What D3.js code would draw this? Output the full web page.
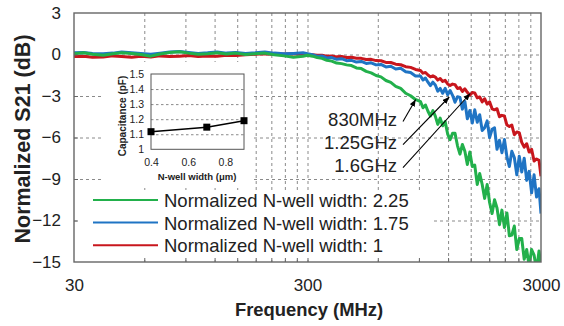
<!DOCTYPE html>
<html><head><meta charset="utf-8">
<script src="https://cdn.jsdelivr.net/npm/d3@7"></script>
<style>body{margin:0;background:#fff}svg{display:block;font-family:Arial,"Liberation Sans",sans-serif}</style>
</head><body><svg id="c" width="564" height="326"></svg>
<script>
// ---------- data ----------
const freqs=[30,33,36,40,44,48,53,58,64,70,77,85,93,102,112,123,135,148,163,179,197,216,238,261,287,300,
315,330,346,363,381,400,420,441,463,486,510,535,562,590,619,650,682,716,752,790,829,870,
914,937,960,984,1008,1033,1058,1084,1110,1138,1166,1195,1224,1254,1285,1317,1349,1382,1416,1451,1487,1524,1561,1600,1639,1680,1721,1764,1807,1852,1897,1944,1992,2041,2092,2144,2196,2250,2306,2363,2421,2481,2542,2605,2669,2735,2802,2871,2942,3000];
const greenS21=[0.05,0.12,0.02,-0.05,0.06,0.12,0.08,0.0,-0.12,0.04,0.15,0.2,0.1,0.02,0.06,0.12,0.04,0.1,0.0,0.06,0.1,-0.02,-0.1,-0.2,-0.12,-0.05,
-0.12,-0.22,-0.28,-0.42,-0.48,-0.62,-0.66,-0.75,-0.8,-0.97,-1.02,-1.22,-1.33,-1.52,-1.62,-1.88,-2.02,-2.3,-2.45,-2.8,-2.98,-3.25,
-3.4,-3.85,-3.65,-4.1,-4.45,-4.05,-4.45,-5.05,-4.6,-5.15,-4.85,-5.75,-6.15,-5.7,-5.7,-6.6,-7.2,-6.5,-7.0,-7.95,-7.05,-8.1,-8.0,-9.4,-8.6,-9.4,-10.4,-9.4,-10.7,-11.5,-10.5,-11.1,-12.3,-11.25,-12.5,-11.45,-13.1,-13.05,-12.4,-14.1,-13.3,-13.3,-14.8,-14.1,-15.3,-14.1,-14.5,-15.6,-14.2,-15.4];
const blueS21=[0.12,0.15,0.08,0.05,0.1,0.18,0.12,0.08,0.02,0.1,0.18,0.22,0.15,0.08,0.12,0.18,0.1,0.15,0.08,0.12,0.18,0.1,0.05,0.08,0.12,0.05,
-0.02,-0.12,-0.1,-0.25,-0.22,-0.35,-0.3,-0.45,-0.42,-0.55,-0.5,-0.65,-0.6,-0.75,-0.72,-0.9,-0.85,-1.05,-1.0,-1.25,-1.3,-1.55,
-1.55,-1.85,-1.7,-2.0,-2.25,-2.0,-2.2,-2.65,-2.45,-2.8,-2.45,-2.9,-2.6,-2.95,-3.45,-3.05,-3.1,-3.95,-3.4,-4.65,-4.05,-4.95,-4.0,-4.9,-4.35,-5.5,-5.3,-4.8,-6.0,-5.4,-5.3,-6.85,-6.2,-7.1,-6.15,-7.4,-8.1,-7.0,-7.45,-8.7,-7.35,-8.5,-7.5,-9.1,-8.45,-10.0,-8.7,-10.3,-9.7,-11.5];
const redS21=[-0.15,-0.12,-0.2,-0.18,-0.1,-0.15,-0.2,-0.12,-0.18,-0.1,-0.15,-0.12,-0.08,-0.15,-0.1,-0.12,-0.05,-0.08,-0.02,0.02,0.05,0.0,0.04,0.06,0.02,0.0,
-0.02,-0.06,-0.05,-0.12,-0.1,-0.17,-0.15,-0.22,-0.2,-0.27,-0.28,-0.36,-0.35,-0.44,-0.45,-0.57,-0.58,-0.7,-0.74,-0.88,-0.93,-1.08,
-1.15,-1.35,-1.3,-1.48,-1.62,-1.54,-1.63,-1.85,-1.74,-1.95,-1.87,-2.13,-2.24,-2.14,-2.18,-2.46,-2.39,-2.67,-2.48,-2.73,-2.94,-2.75,-2.78,-3.14,-3.07,-3.42,-3.2,-3.58,-3.42,-3.93,-4.0,-3.92,-4.5,-4.4,-4.45,-5.1,-5.2,-5.1,-5.8,-5.6,-5.65,-6.35,-6.7,-6.45,-7.05,-6.85,-7.7,-7.55,-7.65,-8.8];
const seriesNames=["Normalized N-well width: 2.25","Normalized N-well width: 1.75","Normalized N-well width: 1"];
const xTicks=[30,300,3000];
const yTicks=[-15,-12,-9,-6,-3,0,3];
const gridFreqs=[60,90,120,150,180,210,240,270,300,600,900,1200,1500,1800,2100,2400,2700];
const gridDB=[-12,-9,-6,-3,0];
const annotLabels=["830MHz","1.25GHz","1.6GHz"];
const annotFreqs=[830,1250,1600];
const annotDB=-3;
const insetWidths=[0.4,0.7,0.9];
const insetCap=[1.117,1.147,1.19];
const insetXTicks=[0.4,0.6,0.8];
const insetYTicks=[1,1.1,1.2,1.3,1.4,1.5];

// ---------- layout ----------
const svg=d3.select("#c");
const X0=74,X1=541,Y0=13,Y1=262;
const x=d3.scaleLog().domain([30,3000]).range([X0,X1]);
const y=d3.scaleLinear().domain([-15,3]).range([Y1,Y0]);
const gridColor="#8a8a8a", textColor="#222";
const colors={green:"#22b04b",blue:"#1f74c4",red:"#c8161d"};

svg.append("rect").attr("width",564).attr("height",326).attr("fill","#fff");

// grid
svg.append("g").attr("transform",`translate(0,${Y1})`)
  .call(d3.axisBottom(x).tickValues(gridFreqs).tickSize(-(Y1-Y0)).tickFormat(""))
  .call(g=>{g.select(".domain").remove();g.selectAll("line").attr("stroke",gridColor).attr("stroke-dasharray","3,3");});
svg.append("g").attr("transform",`translate(${X0},0)`)
  .call(d3.axisLeft(y).tickValues(gridDB).tickSize(-(X1-X0)).tickFormat(""))
  .call(g=>{g.select(".domain").remove();g.selectAll("line").attr("stroke",gridColor).attr("stroke-dasharray","3,3");});

// series
svg.append("clipPath").attr("id","clip").append("rect")
  .attr("x",X0).attr("y",Y0).attr("width",X1-X0).attr("height",Y1-Y0);
const line=d3.line().x((d,i)=>x(freqs[i])).y(d=>y(d));
const series=[
  {name:seriesNames[2],vals:redS21,color:colors.red},
  {name:seriesNames[1],vals:blueS21,color:colors.blue},
  {name:seriesNames[0],vals:greenS21,color:colors.green}];
svg.append("g").attr("clip-path","url(#clip)").selectAll("path").data(series).join("path")
  .attr("d",d=>line(d.vals)).attr("fill","none").attr("stroke",d=>d.color)
  .attr("stroke-width",3).attr("stroke-linejoin","round");

// inset
const ib=svg.append("g");
ib.append("rect").attr("x",104).attr("y",62).attr("width",148).attr("height",126).attr("fill","#fff");
const ix=d3.scaleLinear().domain([0.4,0.9]).range([151,244]);
const iy=d3.scaleLinear().domain([1,1.5]).range([149.3,74]);
ib.append("g").attr("transform",`translate(${ix.range()[0]},0)`)
  .call(d3.axisLeft(iy).tickValues(insetYTicks.slice(1,5)).tickSize(-(ix.range()[1]-ix.range()[0])).tickFormat(""))
  .call(g=>{g.select(".domain").remove();g.selectAll("line").attr("stroke",gridColor).attr("stroke-dasharray","2.5,2.5");});
ib.append("rect").attr("x",151).attr("y",74).attr("width",93).attr("height",75.3)
  .attr("fill","none").attr("stroke","#555").attr("stroke-width",1);
ib.append("g").attr("transform","translate(147,0)")
  .call(d3.axisLeft(iy).tickValues(insetYTicks).tickSize(0).tickFormat(d3.format("~g")))
  .call(g=>{g.select(".domain").remove();g.selectAll("text").attr("font-size","10.5px").attr("fill",textColor).attr("font-family","Arial,'Liberation Sans',sans-serif");});
ib.append("g").attr("transform","translate(0,156)")
  .call(d3.axisBottom(ix).tickValues(insetXTicks).tickSize(0).tickFormat(d3.format(".1f")))
  .call(g=>{g.select(".domain").remove();g.selectAll("text").attr("font-size","10.5px").attr("fill",textColor).attr("font-family","Arial,'Liberation Sans',sans-serif");});
ib.append("path").attr("d",d3.line().x((d,i)=>ix(insetWidths[i])).y(d=>iy(d))(insetCap))
  .attr("fill","none").attr("stroke","#000").attr("stroke-width",1.5);
ib.selectAll("rect.m").data(insetCap).join("rect").attr("class","m")
  .attr("x",(d,i)=>ix(insetWidths[i])-3.5).attr("y",d=>iy(d)-3.5).attr("width",7).attr("height",7).attr("fill","#000");
ib.append("text").attr("x",197).attr("y",180).attr("text-anchor","middle")
  .attr("font-size","9.5px").attr("font-weight","bold").attr("fill",textColor).text("N-well width (μm)");
ib.append("text").attr("transform","translate(126,116) rotate(-90)").attr("text-anchor","middle")
  .attr("font-size","10px").attr("font-weight","bold").attr("fill",textColor).text("Capacitance (pF)");

// legend
const lg=svg.append("g");
lg.append("rect").attr("x",78).attr("y",190).attr("width",354).attr("height",70).attr("fill","#fff");
const legendRows=[series[2],series[1],series[0]];
legendRows.forEach((s,i)=>{
  const ly=200+i*22.6;
  lg.append("line").attr("x1",93).attr("x2",158).attr("y1",ly).attr("y2",ly).attr("stroke",s.color).attr("stroke-width",2);
  lg.append("text").attr("x",164).attr("y",207+i*22.5).attr("font-size","18.5px").attr("fill",textColor).text(s.name);
});

// frame & axes
svg.append("rect").attr("x",X0).attr("y",Y0).attr("width",X1-X0).attr("height",Y1-Y0)
  .attr("fill","none").attr("stroke","#666").attr("stroke-width",1.4);
svg.append("g").attr("transform",`translate(0,${Y1})`)
  .call(d3.axisBottom(x).tickValues(gridFreqs).tickSize(-4).tickFormat(""))
  .call(g=>{g.select(".domain").remove();g.selectAll("line").attr("stroke","#666");});
svg.append("g").attr("transform",`translate(${X0},0)`)
  .call(d3.axisLeft(y).tickValues(gridDB).tickSize(-4).tickFormat(""))
  .call(g=>{g.select(".domain").remove();g.selectAll("line").attr("stroke","#666");});
svg.append("g").attr("transform",`translate(0,${Y1+14})`)
  .call(d3.axisBottom(x).tickValues(xTicks).tickSize(0).tickFormat(d3.format("d")))
  .call(g=>{g.select(".domain").remove();g.selectAll("text").attr("font-size","17px").attr("fill",textColor).attr("font-family","Arial,'Liberation Sans',sans-serif");});
svg.append("g").attr("transform",`translate(${X0-10},0)`)
  .call(d3.axisLeft(y).tickValues(yTicks).tickSize(0).tickFormat(d3.format("d")))
  .call(g=>{g.select(".domain").remove();g.selectAll("text").attr("font-size","17px").attr("fill",textColor).attr("font-family","Arial,'Liberation Sans',sans-serif");});

svg.append("text").attr("x",309).attr("y",316).attr("text-anchor","middle")
  .attr("font-size","18.4px").attr("font-weight","bold").attr("fill",textColor).text("Frequency (MHz)");
svg.append("text").attr("transform",`translate(30,139) rotate(-90)`).attr("text-anchor","middle")
  .attr("font-size","21.5px").attr("font-weight","bold").attr("fill",textColor).text("Normalized S21 (dB)");

// annotations
svg.append("defs").append("marker").attr("id","ah").attr("viewBox","0 0 10 8").attr("refX",10).attr("refY",4)
  .attr("markerWidth",7).attr("markerHeight",6).attr("orient","auto").attr("markerUnits","userSpaceOnUse")
  .append("path").attr("d","M0,0L10,4L0,8Z").attr("fill","#000");
const tipDX=[5,-3,-7], tipDY=[3.5,1,-2.5];
annotLabels.forEach((t,i)=>{
  const by=125.5+i*23.1;
  svg.append("text").attr("x",397).attr("y",by).attr("text-anchor","end").attr("font-size","18.5px").attr("fill",textColor).text(t);
  svg.append("line").attr("x1",403).attr("y1",by-4).attr("x2",x(annotFreqs[i])+tipDX[i]).attr("y2",y(annotDB)+tipDY[i])
    .attr("stroke","#000").attr("stroke-width",1.1).attr("marker-end","url(#ah)");
});
</script></body></html>
